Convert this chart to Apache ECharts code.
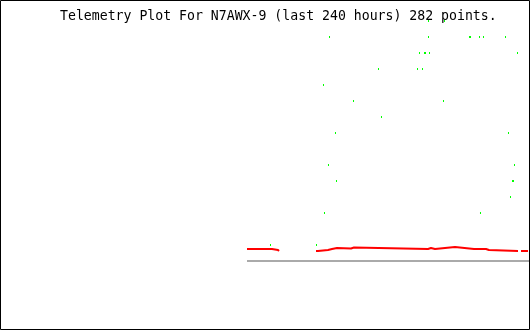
<!DOCTYPE html>
<html>
<head>
<meta charset="utf-8">
<script src="https://cdn.jsdelivr.net/npm/echarts@6/dist/echarts.min.js"></script>
<style>
html,body{margin:0;padding:0;background:#fff;}
#chart{width:530px;height:330px;}
</style>
</head>
<body>
<div id="chart"></div>
<script>
// Title
var titleText = 'Telemetry Plot For N7AWX-9 (last 240 hours) 282 points.';

// X axis: hours relative to now (window of last 240 hours)
var xMin = -240, xMax = 0;

// Green channel: [hours, value] (quantized levels)
var greenPoints = [
  [-45.96, 15], [-38.72, 15],
  [-90.79, 14], [-45.96, 14], [-27.40, 14], [-26.94, 14], [-22.87, 14], [-21.06, 14], [-11.09, 14],
  [-50.04, 13], [-47.77, 13], [-47.32, 13], [-45.51, 13], [-5.66, 13],
  [-68.60, 12], [-50.94, 12], [-48.68, 12],
  [-93.51, 11],
  [-79.92, 10], [-39.17, 10],
  [-67.25, 9],
  [-88.08, 8], [-9.74, 8],
  [-91.25, 6], [-7.02, 6],
  [-87.62, 5], [-7.92, 5], [-7.47, 5],
  [-8.83, 4],
  [-93.06, 3], [-22.42, 3],
  [-117.51, 1], [-96.68, 1]
];

// Red channel: runs of [startHours, endHours, value]
var redRuns = [
  [-128.15, -116.83, 0.75], [-116.83, -114.11, 0.688], [-114.11, -113.66, 0.625],
  null,
  [-96.91, -96.00, 0.625], [-96.00, -91.47, 0.688], [-91.47, -89.66, 0.75],
  [-89.66, -87.40, 0.813], [-87.40, -81.06, 0.78], [-81.06, -79.70, 0.84],
  [-79.70, -46.19, 0.75], [-46.19, -44.83, 0.813], [-44.83, -43.02, 0.75],
  [-43.02, -38.49, 0.813], [-38.49, -33.96, 0.875], [-33.96, -25.36, 0.75],
  [-25.36, -24.91, 0.813], [-24.91, -24.45, 0.75], [-24.45, -24.00, 0.813],
  [-24.00, -19.92, 0.75], [-19.92, -18.57, 0.688], [-18.57, -5.43, 0.625],
  null,
  [-4.08, -0.91, 0.625]
];

// Grey channel: constant zero
var greyPoints = [[-128.15, 0], [0, 0]];

// Build step polyline data from runs
var redData = [];
redRuns.forEach(function (r) {
  if (r === null) { redData.push([null, null]); return; }
  redData.push([r[0], r[2]]);
  redData.push([r[1], r[2]]);
});

var chart = echarts.init(document.getElementById('chart'), null, {renderer: 'canvas'});
chart.setOption({
  animation: false,
  backgroundColor: '#ffffff',
  grid: {left: 0, top: 0, width: 530, height: 330, show: false},
  xAxis: {type: 'value', min: xMin, max: xMax, show: false},
  yAxis: {type: 'value', min: -4.3125, max: 16.3125, show: false},
  graphic: [
    {type: 'rect', z: 100, shape: {x: 0.5, y: 0.5, width: 529, height: 329},
     style: {fill: 'none', stroke: '#000', lineWidth: 1}},
    {type: 'text', z: 1, left: 60, top: 10,
     style: {text: titleText, font: '13.2px "DejaVu Sans Mono"', fill: '#000'}}
  ],
  series: [
    {type: 'line', data: greyPoints, symbol: 'none', silent: true,
     lineStyle: {color: '#aaaaaa', width: 2}, z: 2},
    {type: 'line', data: redData, symbol: 'none', silent: true,
     connectNulls: false, lineStyle: {color: '#ff0000', width: 2}, z: 3},
    {type: 'scatter', data: greenPoints, symbol: 'rect', symbolSize: [1, 2], silent: true,
     itemStyle: {color: '#00ff00', opacity: 1}, z: 4}
  ]
});
</script>
</body>
</html>
